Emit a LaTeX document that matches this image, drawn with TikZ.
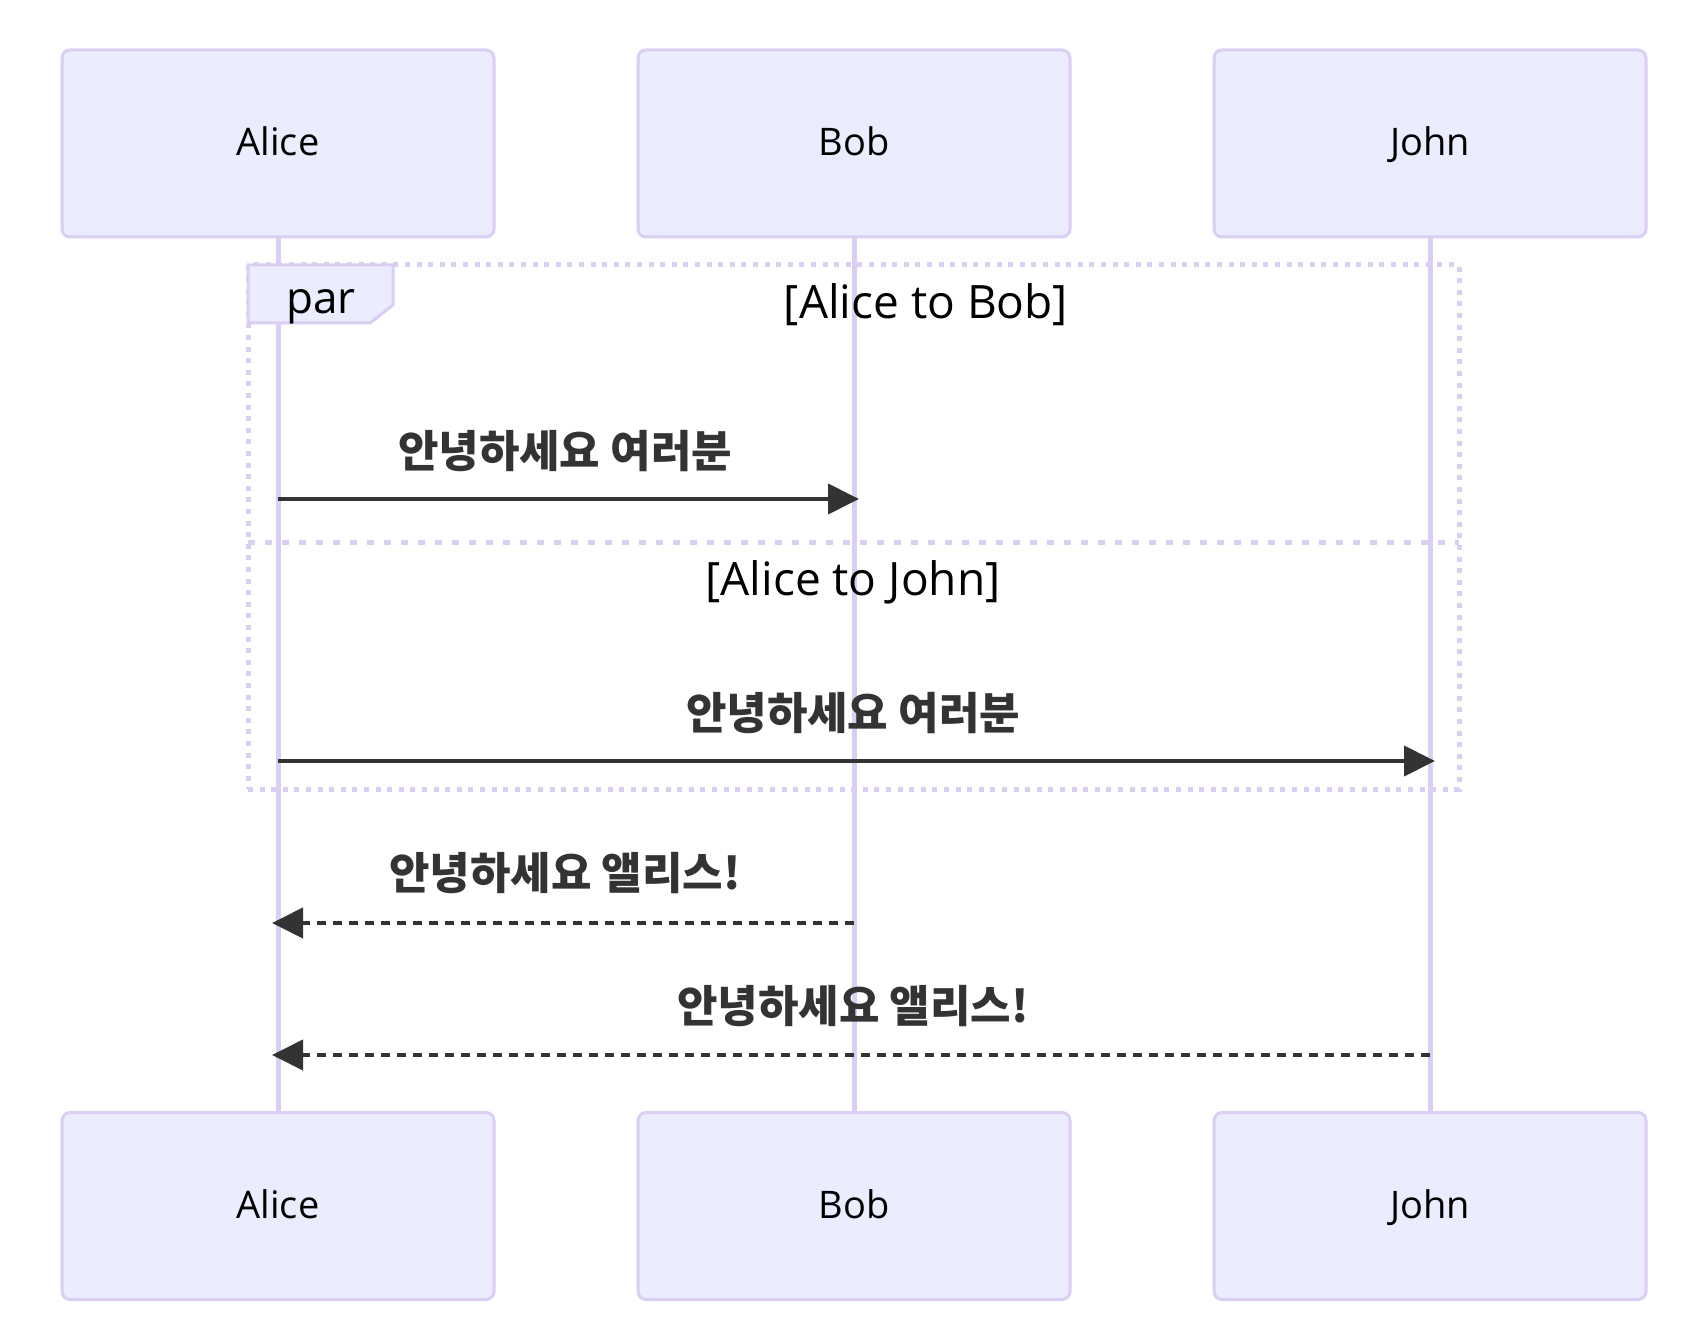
\documentclass[tikz,border=0pt]{standalone}
\usepackage{fontspec}
\setmainfont{Open Sans}
\newfontfamily\krfont{Noto Sans CJK KR}
\definecolor{actorfill}{RGB}{236, 236, 255}
\definecolor{actorline}{RGB}{218, 206, 243}
\definecolor{msgdark}{RGB}{51, 51, 51}
\usetikzlibrary{arrows.meta}
\tikzstyle{actor} = [draw=actorline, fill=actorfill, line width=1.5pt, rounded corners=4pt,
                     minimum width=216pt, minimum height=93.5pt, text depth=0.2em,
                     font=\fontsize{19}{23}\selectfont]
\tikzstyle{lifeline} = [draw=actorline, line width=2.5pt]
\tikzstyle{parframe} = [draw=actorline, line width=2.5pt, dash pattern=on 2.5pt off 3.3pt,
                        minimum width=605.5pt, minimum height=262pt, inner sep=0pt, outer sep=0pt]
\tikzstyle{pardiv} = [draw=actorline, line width=2.5pt, dash pattern=on 3.5pt off 5pt]
\tikzstyle{msg} = [msgdark, line width=2pt, -{Triangle[length=15.5pt, width=15pt]}]
\tikzstyle{reply} = [msg, dash pattern=on 4.5pt off 3.5pt]
\tikzstyle{msglabel} = [text=msgdark, font=\krfont\bfseries\fontsize{22}{26}\selectfont]
\tikzstyle{framelabel} = [font=\fontsize{23}{27}\selectfont]

\begin{document}
\begin{tikzpicture}[x=0.5pt, y=-0.5pt]
                    \useasboundingbox (0,0) rectangle (1698,1326);
                    % participants
                    \node[actor] (alicetop) at (278, 143.5) {Alice};
                    \node[actor] (bobtop) at (854, 143.5) {Bob};
                    \node[actor] (johntop) at (1430, 143.5) {John};
                    \node[actor] (alicebot) at (278, 1206) {Alice};
                    \node[actor] (bobbot) at (854, 1206) {Bob};
                    \node[actor] (johnbot) at (1430, 1206) {John};
                    \draw[lifeline] (alicetop) -- (alicebot);
                    \draw[lifeline] (bobtop) -- (bobbot);
                    \draw[lifeline] (johntop) -- (johnbot);
                    % par block
                    \node[parframe] (parbox) at (853.5, 527) {};
                    \coordinate (divl) at (248, 543);
                    \coordinate (divr) at (1459, 543);
                    \draw[pardiv] (divl) -- (divr);
                    \draw[actorline, fill=actorfill, line width=1.5pt] (parbox.north west) -- ++(145,0)
                        -- ++(0,40) -- ++(-23,18) -- ++(-122,0) -- cycle;
                    \node[framelabel, font=\fontsize{22}{26}\selectfont] (parlabel) at (321, 307) {par};
                    \node[framelabel] (bobsect) at (926, 305) {[Alice to Bob]};
                    \node[framelabel] (johnsect) at (853, 582) {[Alice to John]};
                    % messages
                    \coordinate (m1s) at (278, 499);
                    \coordinate (m1e) at (859, 499);
                    \draw[msg] (m1s) -- (m1e);
                    \node[msglabel] (m1text) at (565, 451) {안녕하세요 여러분};
                    \coordinate (m2s) at (278, 761);
                    \coordinate (m2e) at (1435, 761);
                    \draw[msg] (m2s) -- (m2e);
                    \node[msglabel] (m2text) at (853, 713) {안녕하세요 여러분};
                    \coordinate (m3s) at (854, 923);
                    \coordinate (m3e) at (272, 923);
                    \draw[reply] (m3s) -- (m3e);
                    \node[msglabel] (m3text) at (565, 873) {안녕하세요 앨리스!};
                    \coordinate (m4s) at (1430, 1055);
                    \coordinate (m4e) at (272, 1055);
                    \draw[reply] (m4s) -- (m4e);
                    \node[msglabel] (m4text) at (853, 1006) {안녕하세요 앨리스!};
                \end{tikzpicture}
\end{document}
